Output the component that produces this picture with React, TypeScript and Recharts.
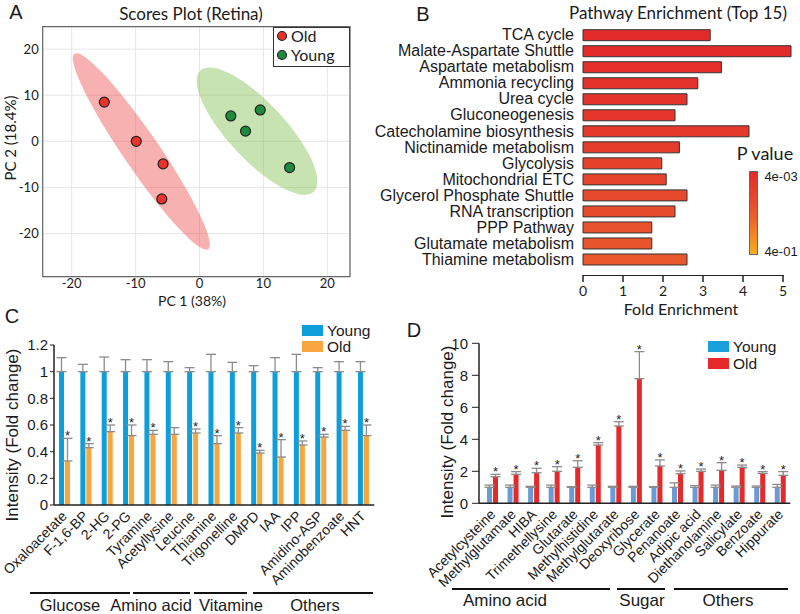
import React from 'react';
import {
  ScatterChart, Scatter, BarChart, Bar, XAxis, YAxis, CartesianGrid,
  ReferenceArea, ErrorBar, LabelList, Cell,
} from 'recharts';

const SANS = '"Liberation Sans", Arial, sans-serif';
const HUM = 'Lato, "Open Sans", sans-serif';
const INK = '#1a1a1a';

// A - PCA scores
const oldPC1 = [-14.9, -9.9, -5.7, -5.9];
const oldPC2 = [8.5, 0, -4.9, -12.5];
const youngPC1 = [4.9, 7.2, 9.5, 14.1];
const youngPC2 = [5.5, 2.2, 6.8, -5.7];
const oldCentre = [-9.1, -2.2];
const youngCentre = [9.0, 2.2];
const pcTicks = [-20, -10, 0, 10, 20];

// B - pathway enrichment
const pathways = [
  'TCA cycle', 'Malate-Aspartate Shuttle', 'Aspartate metabolism', 'Ammonia recycling',
  'Urea cycle', 'Gluconeogenesis', 'Catecholamine biosynthesis', 'Nictinamide metabolism',
  'Glycolysis', 'Mitochondrial ETC', 'Glycerol Phosphate Shuttle', 'RNA transcription',
  'PPP Pathway', 'Glutamate metabolism', 'Thiamine metabolism',
];
const foldEnrichment = [3.18, 5.2, 3.46, 2.87, 2.6, 2.3, 4.15, 2.41, 1.97, 2.08, 2.6, 2.3, 1.72, 1.72, 2.6];
const pathwayP = [0.004, 0.004, 0.005, 0.006, 0.006, 0.007, 0.008, 0.01, 0.012, 0.014, 0.018, 0.022, 0.028, 0.032, 0.038];
const foldTicks = [0, 1, 2, 3, 4, 5];

// C - decreased metabolites
const cMetabolites = [
  'Oxaloacetate', 'F-1,6-BP', '2-HG', '2-PG', 'Tyramine', 'Acetyllysine', 'Leucine',
  'Thiamine', 'Trigonelline', 'DMPD', 'IAA', 'IPP', 'Amidino-ASP', 'Aminobenzoate', 'HNT',
];
const cYoung = [1, 1, 1, 1, 1, 1, 1, 1, 1, 1, 1, 1, 1, 1, 1];
const cYoungErr = [0.105, 0.055, 0.11, 0.09, 0.09, 0.075, 0.03, 0.13, 0.07, 0.045, 0.105, 0.13, 0.03, 0.075, 0.075];
const cOld = [0.33, 0.43, 0.55, 0.52, 0.53, 0.53, 0.54, 0.46, 0.54, 0.39, 0.36, 0.45, 0.51, 0.56, 0.52];
const cOldErr = [0.17, 0.03, 0.05, 0.08, 0.03, 0.05, 0.03, 0.06, 0.04, 0.02, 0.13, 0.03, 0.02, 0.03, 0.08];
const cSig = [1, 1, 1, 1, 1, 0, 1, 1, 1, 1, 1, 1, 1, 1, 1];
const cTicks = [0, 0.2, 0.4, 0.6, 0.8, 1, 1.2];

// D - increased metabolites
const dMetabolites = [
  'Acetylcysteine', 'Methylglutamate', 'HIBA', 'Trimethellysine', 'Glutarate', 'Methylhistidine',
  'Methylglutarate', 'Deoxyribose', 'Glycerate', 'Penanoate', 'Adipic acid', 'Diethanolamine',
  'Salicylate', 'Benzoate', 'Hippurate',
];
const dYoung = [1, 1, 1, 1, 1, 1, 1, 1, 1, 1, 1, 1, 1, 1, 1];
const dYoungErr = [0.14, 0.14, 0.06, 0.14, 0.04, 0.14, 0.06, 0.06, 0.04, 0.28, 0.1, 0.14, 0.08, 0.08, 0.18];
const dOld = [1.66, 1.81, 1.91, 2.0, 2.25, 3.64, 4.83, 7.79, 2.33, 1.85, 2.0, 2.06, 2.25, 1.87, 1.75];
const dOldErr = [0.15, 0.17, 0.28, 0.29, 0.41, 0.15, 0.27, 1.69, 0.38, 0.17, 0.14, 0.48, 0.14, 0.11, 0.23];
const dSig = [1, 1, 1, 1, 1, 1, 1, 1, 1, 1, 1, 1, 1, 1, 1];
const dTicks = [0, 1, 2, 3, 4, 5, 6, 7, 8, 9, 10];

const oldPts = oldPC1.map((x, i) => ({ x, y: oldPC2[i] }));
const youngPts = youngPC1.map((x, i) => ({ x, y: youngPC2[i] }));
const pathwayRows = pathways.map((name, i) => ({ name, value: foldEnrichment[i], p: pathwayP[i] }));
const cRows = cMetabolites.map((name, i) => ({
  name, young: cYoung[i], youngErr: [0, cYoungErr[i]], old: cOld[i], oldErr: [0, cOldErr[i]],
}));
const dRows = dMetabolites.map((name, i) => ({
  name, young: dYoung[i], youngErr: [0, dYoungErr[i]], old: dOld[i], oldErr: [0, dOldErr[i]],
}));

// p value -> colour (red at 4e-3, yellow at 4e-1, log scale)
const hex = (h: string) => [1, 3, 5].map((k) => parseInt(h.slice(k, k + 2), 16));
const mix = (a: string, b: string, t: number) => {
  const A = hex(a), B = hex(b);
  return `rgb(${A.map((v, i) => Math.round(v + (B[i] - v) * t)).join(',')})`;
};
const pColor = (p: number) => {
  const t = Math.min(1, Math.max(0, (Math.log10(p) - Math.log10(0.004)) / 2));
  return t < 0.5 ? mix('#e32b2a', '#e9592d', t / 0.5) : mix('#e9592d', '#f8ad22', (t - 0.5) / 0.5);
};

const Txt = ({ x, y, size, font = SANS, rot = 0, start = false, children }: any) => (
  <div style={{
    position: 'absolute', left: x, top: y, fontSize: size, fontFamily: font, color: INK,
    whiteSpace: 'nowrap', lineHeight: 1,
    transform: `translate(${start ? 0 : -50}%, -50%) rotate(${rot}deg)`,
  }}>{children}</div>
);

const Rule = ({ x1, x2, y }: any) => (
  <div style={{ position: 'absolute', left: x1, top: y - 1, width: x2 - x1, height: 1.6, background: '#111' }} />
);

const ellipse = (rx: number, ry: number, angle: number, fill: string) => (p: any) => (
  <ellipse cx={p.cx} cy={p.cy} rx={rx} ry={ry} fill={fill} fillOpacity={0.4}
    transform={`rotate(${angle} ${p.cx} ${p.cy})`} />
);
const dot = (fill: string) => (p: any) => (
  <circle cx={p.cx} cy={p.cy} r={5} fill={fill} stroke="#222" strokeWidth={1.2} />
);

const RotTick = (props: any) => {
  const { x, y, payload, ox, oy } = props;
  const px = x + ox, py = y + oy;
  return (
    <text x={px} y={py} transform={`rotate(-45 ${px} ${py})`} textAnchor="end"
      fontSize={14} fontFamily={SANS} fill={INK}>{payload.value}</text>
  );
};

const star = (vals: number[], errs: number[], sig: number[]) => (props: any) => {
  const vb = props.viewBox || {};
  const x = props.x ?? vb.x, y = props.y ?? vb.y;
  const width = props.width ?? vb.width, height = props.height ?? vb.height;
  const i = props.index;
  if (i == null || !sig[i]) return null;
  const top = y - (errs[i] / vals[i]) * height;
  return (
    <text x={x + width / 2} y={top + 2} textAnchor="middle" fontSize={13} fontFamily={SANS} fill="#222">*</text>
  );
};

const LegendSwatch = ({ x, y, color, label }: any) => (
  <>
    <div style={{ position: 'absolute', left: x, top: y, width: 21, height: 11, background: color }} />
    <Txt x={x + 25} y={y + 5.5} size={15.5} start>{label}</Txt>
  </>
);

export default function App() {
  return (
    <div style={{ position: 'absolute', left: 0, top: 0, width: 800, height: 614, background: '#fff', overflow: 'hidden' }}>
      {/* A */}
      <div style={{ position: 'absolute', left: 0, top: 0 }}>
        <ScatterChart width={400} height={300} margin={{ top: 26.7, right: 50, bottom: 0, left: 0 }}>
          <CartesianGrid stroke="#e6e6e6" strokeWidth={1} />
          <XAxis type="number" dataKey="x" domain={[-24.54, 23.55]} ticks={pcTicks} allowDataOverflow
            height={23.3} tickLine={false} axisLine={false} tickSize={2} tickMargin={0}
            tick={{ fontSize: 13, fontFamily: HUM, fill: INK }} />
          <YAxis type="number" dataKey="y" domain={[-29.37, 24.86]} ticks={pcTicks} allowDataOverflow
            width={42.7} tickLine={false} axisLine={false} tickSize={4} tickMargin={0}
            tick={{ fontSize: 13, fontFamily: HUM, fill: INK }} />
          <Scatter data={[{ x: oldCentre[0], y: oldCentre[1] }]} shape={ellipse(118.5, 18, 55.6, '#ee3b3b')} isAnimationActive={false} />
          <Scatter data={[{ x: youngCentre[0], y: youngCentre[1] }]} shape={ellipse(83, 28.5, 47, '#72b83c')} isAnimationActive={false} />
          <Scatter data={oldPts} shape={dot('#e8322b')} isAnimationActive={false} />
          <Scatter data={youngPts} shape={dot('#1f8a3b')} isAnimationActive={false} />
          <ReferenceArea x1={-24.54} x2={23.55} y1={-29.37} y2={24.86} fill="none" stroke="#666" strokeWidth={1.2} ifOverflow="visible" />
        </ScatterChart>
      </div>
      <div style={{ position: 'absolute', left: 273, top: 27, width: 77, height: 40, border: '1.5px solid #333', boxSizing: 'border-box', background: '#fff' }} />
      <svg width={20} height={40} style={{ position: 'absolute', left: 276, top: 27 }}>
        <circle cx={6} cy={9} r={4.5} fill="#e8322b" stroke="#222" strokeWidth={1.1} />
        <circle cx={6} cy={28} r={4.5} fill="#1f8a3b" stroke="#222" strokeWidth={1.1} />
      </svg>
      <Txt x={291} y={36} size={16} font={HUM} start>Old</Txt>
      <Txt x={291} y={55} size={16} font={HUM} start>Young</Txt>
      <Txt x={16} y={12} size={20}>A</Txt>
      <Txt x={191} y={13} size={17} font={HUM}>Scores Plot (Retina)</Txt>
      <Txt x={192} y={301} size={14} font={HUM}>PC 1 (38%)</Txt>
      <Txt x={10} y={138} size={15} font={HUM} rot={-90}>PC 2 (18.4%)</Txt>

      {/* B */}
      <div style={{ position: 'absolute', left: 360, top: 0 }}>
        <BarChart width={440} height={300} layout="vertical" data={pathwayRows}
          margin={{ top: 26.7, right: 7, bottom: 0, left: 0 }}>
          <XAxis type="number" dataKey="value" domain={[0, 5.25]} ticks={foldTicks} height={25}
            axisLine={false} tickSize={7} tickMargin={4} tickLine={{ stroke: '#222', strokeWidth: 1.5 }}
            tick={{ fontSize: 14, fontFamily: HUM, fill: INK }} />
          <YAxis type="category" dataKey="name" width={223} padding={{ top: 0, bottom: 8 }}
            axisLine={false} tickLine={false} tickSize={0} tickMargin={9} interval={0}
            tick={{ fontSize: 16, fontFamily: SANS, fill: INK }} />
          <Bar dataKey="value" barSize={11} stroke="#333" strokeWidth={1} isAnimationActive={false}>
            {pathwayRows.map((r, i) => <Cell key={i} fill={pColor(r.p)} />)}
          </Bar>
        </BarChart>
      </div>
      <div style={{ position: 'absolute', left: 583, top: 274.5, width: 201, height: 1.5, background: '#222' }} />
      <Txt x={423} y={14} size={20}>B</Txt>
      <Txt x={678} y={12} size={17} font={HUM}>Pathway Enrichment (Top 15)</Txt>
      <Txt x={681} y={309} size={16} font={HUM}>Fold Enrichment</Txt>
      <Txt x={765} y={153} size={18} font={HUM}>P value</Txt>
      <div style={{
        position: 'absolute', left: 749, top: 171, width: 9, height: 84, boxSizing: 'border-box',
        border: '1px solid #666', background: 'linear-gradient(#e32b2a, #e9592d 50%, #f8ad22)',
      }} />
      <Txt x={781} y={176} size={13}>4e-03</Txt>
      <Txt x={781} y={251} size={13}>4e-01</Txt>

      {/* C */}
      <div style={{ position: 'absolute', left: 0, top: 300 }}>
        <BarChart width={400} height={314} data={cRows} barGap={1}
          margin={{ top: 45, right: 25.7, bottom: 0, left: 0 }}>
          <XAxis dataKey="name" interval={0} height={109} tickLine={false} tickSize={0} tickMargin={0}
            axisLine={{ stroke: '#222', strokeWidth: 1.5 }}
            tick={(p: any) => <RotTick {...p} ox={3} oy={12} />} />
          <YAxis domain={[0, 1.2]} ticks={cTicks} width={54} tickSize={4} tickMargin={2}
            axisLine={{ stroke: '#222', strokeWidth: 1.5 }} tickLine={{ stroke: '#222' }}
            tick={{ fontSize: 15, fontFamily: SANS, fill: INK }} />
          <Bar dataKey="young" barSize={5} fill="#0e9fdb" isAnimationActive={false}>
            <ErrorBar dataKey="youngErr" width={5} stroke="#8c8c8c" strokeWidth={1.3} direction="y" />
          </Bar>
          <Bar dataKey="old" barSize={5} fill="#f8a640" isAnimationActive={false}>
            <ErrorBar dataKey="oldErr" width={5} stroke="#8c8c8c" strokeWidth={1.3} direction="y" />
            <LabelList dataKey="old" content={star(cOld, cOldErr, cSig)} />
          </Bar>
        </BarChart>
      </div>
      <Txt x={12} y={316} size={20}>C</Txt>
      <Txt x={12} y={435} size={17} rot={-90}>Intensity (Fold change)</Txt>
      <LegendSwatch x={302} y={325} color="#0e9fdb" label="Young" />
      <LegendSwatch x={302} y={341} color="#f8a640" label="Old" />
      <Rule x1={30} x2={130} y={593} />
      <Rule x1={133} x2={190} y={593} />
      <Rule x1={194} x2={247} y={593} />
      <Rule x1={253} x2={373} y={593} />
      <Txt x={70} y={605} size={16.5}>Glucose</Txt>
      <Txt x={151} y={605} size={16.5}>Amino acid</Txt>
      <Txt x={231} y={605} size={16.5}>Vitamine</Txt>
      <Txt x={315} y={605} size={16.5}>Others</Txt>

      {/* D */}
      <div style={{ position: 'absolute', left: 400, top: 300 }}>
        <BarChart width={400} height={314} data={dRows} barGap={1}
          margin={{ top: 43.3, right: 9.7, bottom: 0, left: 0 }}>
          <XAxis dataKey="name" interval={0} height={110.7} tickLine={false} tickSize={0} tickMargin={0}
            padding={{ left: 3, right: 0 }} axisLine={{ stroke: '#222', strokeWidth: 1.5 }}
            tick={(p: any) => <RotTick {...p} ox={4} oy={12} />} />
          <YAxis domain={[0, 10]} ticks={dTicks} width={79} tickSize={7} tickMargin={4}
            axisLine={{ stroke: '#222', strokeWidth: 1.5 }} tickLine={{ stroke: '#222' }}
            tick={{ fontSize: 15, fontFamily: SANS, fill: INK }} />
          <Bar dataKey="young" barSize={5} fill="#6b9bd3" isAnimationActive={false}>
            <ErrorBar dataKey="youngErr" width={5} stroke="#8c8c8c" strokeWidth={1.3} direction="y" />
          </Bar>
          <Bar dataKey="old" barSize={5} fill="#e62a2b" isAnimationActive={false}>
            <ErrorBar dataKey="oldErr" width={5} stroke="#8c8c8c" strokeWidth={1.3} direction="y" />
            <LabelList dataKey="old" content={star(dOld, dOldErr, dSig)} />
          </Bar>
        </BarChart>
      </div>
      <Txt x={414} y={330} size={20}>D</Txt>
      <Txt x={447} y={432} size={17} rot={-90}>Intensity (Fold change)</Txt>
      <LegendSwatch x={708} y={341} color="#1aa0dc" label="Young" />
      <LegendSwatch x={708} y={358} color="#e62a2b" label="Old" />
      <Rule x1={452} x2={610} y={589} />
      <Rule x1={617} x2={665} y={589} />
      <Rule x1={674} x2={788} y={589} />
      <Txt x={505} y={600} size={17}>Amino acid</Txt>
      <Txt x={642} y={600} size={17}>Sugar</Txt>
      <Txt x={728} y={600} size={17}>Others</Txt>
    </div>
  );
}
